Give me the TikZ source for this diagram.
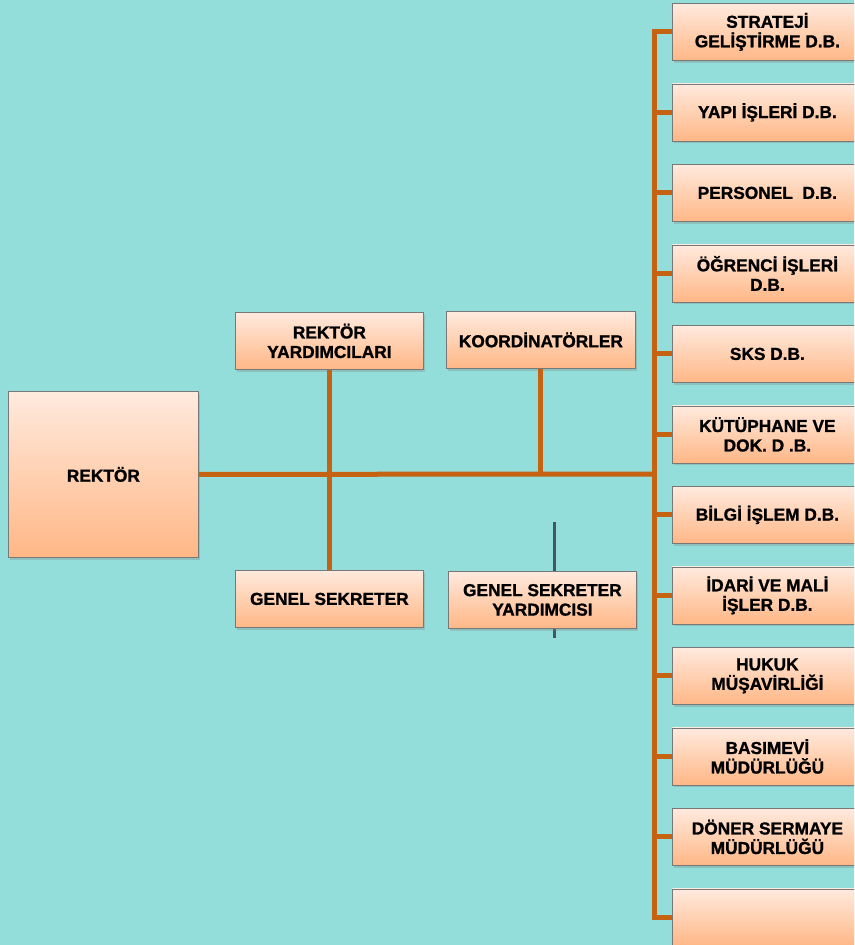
\documentclass[tikz,border=0pt]{standalone}
\usepackage{fontspec}
\setmainfont{Liberation Sans}[BoldFeatures={FakeBold=1.2}]
\usetikzlibrary{shadows,calc}
\definecolor{bg}{RGB}{147,222,218}
\definecolor{orangeline}{RGB}{197,99,18}
\definecolor{darkline}{RGB}{68,84,106}
\definecolor{btop}{RGB}{255,234,222}
\definecolor{bbot}{RGB}{255,183,134}
\definecolor{bord}{RGB}{120,120,120}
\begin{document}
\begin{tikzpicture}[x=1pt,y=1pt,
  box/.style={draw=bord, line width=0.8pt, top color=btop, bottom color=bbot,
    align=center, inner sep=0pt, anchor=north west,
    font=\fontsize{17.3}{19.5}\selectfont\bfseries,
    drop shadow={opacity=0.3, shadow xshift=1.5pt, shadow yshift=-2.5pt}},
  rbox/.style={box, minimum width=190pt, minimum height=57pt},
  cbox/.style={box, minimum width=188pt, minimum height=57pt},
  conn/.style={draw=orangeline, line width=5pt},
  thin/.style={draw=darkline, line width=3pt}
]
\fill[bg] (0,0) rectangle (854,-945);
\clip (0,0) rectangle (854,-945);

% free grey-blue line behind the GSY box
\coordinate (d1) at (554,-522);
\coordinate (d2) at (554,-638);
\draw[thin] (d1) -- (d2);

% main boxes
\node[box, minimum width=190pt, minimum height=166pt] (rektor) at (8,-391) {REKTÖR};
\node[cbox] (ry) at (235,-312) {REKTÖR\\YARDIMCILARI};
\node[cbox, minimum width=189pt] (ko) at (446,-311) {KOORDİNATÖRLER};
\node[cbox] (gs) at (235,-570) {GENEL SEKRETER};
\node[cbox] (gsy) at (448,-571) {GENEL SEKRETER\\YARDIMCISI};

% right column
\node[rbox] (b1)  at (672,-3)     {STRATEJİ\\GELİŞTİRME D.B.};
\node[rbox] (b2)  at (672,-83.5)  {YAPI İŞLERİ D.B.};
\node[rbox] (b3)  at (672,-164)   {PERSONEL~~D.B.};
\node[rbox] (b4)  at (672,-244.5) {ÖĞRENCİ İŞLERİ\\D.B.};
\node[rbox] (b5)  at (672,-325)   {SKS D.B.};
\node[rbox] (b6)  at (672,-405.5) {KÜTÜPHANE VE\\DOK. D .B.};
\node[rbox] (b7)  at (672,-486)   {BİLGİ İŞLEM D.B.};
\node[rbox] (b8)  at (672,-566.5) {İDARİ VE MALİ\\İŞLER D.B.};
\node[rbox] (b9)  at (672,-647)   {HUKUK\\MÜŞAVİRLİĞİ};
\node[rbox] (b10) at (672,-727.5) {BASIMEVİ\\MÜDÜRLÜĞÜ};
\node[rbox] (b11) at (672,-808)   {DÖNER SERMAYE\\MÜDÜRLÜĞÜ};
\node[rbox] (b12) at (672,-888.5) {};

% connectors
\coordinate (trunk) at (654,-474);
\draw[conn] (b1.west) -- (b1.west -| trunk) -- (b12.west -| trunk) -- (b12.west);
\foreach \i in {2,...,11} {
  \draw[conn] (b\i.west -| trunk) -- (b\i.west);
}
\draw[conn] (rektor.east) -- (trunk);
\draw[conn] (ry.south) -- (gs.north);
\draw[conn] (ko.south) -- (ko.south |- rektor.east);
\end{tikzpicture}
\end{document}
